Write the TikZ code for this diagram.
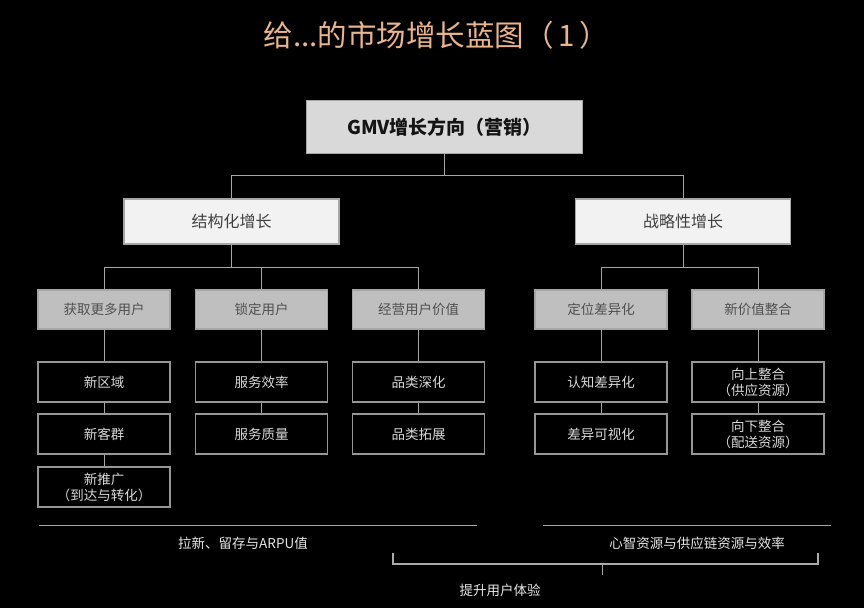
\documentclass[tikz,border=0pt]{standalone}
\usepackage{fontspec}
\setmainfont{Noto Sans CJK SC}
\begin{document}
\begin{tikzpicture}[x=1pt,y=-1pt]
    % Node styles
    \tikzstyle{none}=[inner sep=0mm]
    \tikzstyle{title}=[inner sep=0mm, text={rgb,255: red,234; green,180; blue,140}, font=\fontsize{29.5}{32}\selectfont]
    \tikzstyle{top box}=[fill={rgb,255: red,217; green,217; blue,217}, draw={rgb,255: red,166; green,166; blue,166}, line width=1.2pt, shape=rectangle, minimum width=276pt, minimum height=53pt, text={rgb,255: red,20; green,20; blue,20}, font=\bfseries\fontsize{19}{22}\selectfont]
    \tikzstyle{white box}=[fill={rgb,255: red,242; green,242; blue,242}, draw={rgb,255: red,166; green,166; blue,166}, line width=1.2pt, shape=rectangle, minimum width=215pt, minimum height=45pt, text={rgb,255: red,64; green,64; blue,64}, font=\fontsize{16}{18}\selectfont]
    \tikzstyle{gray box}=[fill={rgb,255: red,191; green,191; blue,191}, draw={rgb,255: red,166; green,166; blue,166}, line width=1.2pt, shape=rectangle, minimum width=132pt, minimum height=39pt, text={rgb,255: red,80; green,80; blue,80}, font=\fontsize{13.5}{16}\selectfont]
    \tikzstyle{black box}=[fill=black, draw={rgb,255: red,150; green,150; blue,150}, line width=1.2pt, shape=rectangle, minimum width=132pt, minimum height=40pt, text={rgb,255: red,217; green,217; blue,217}, align=center, font=\fontsize{13.5}{16}\selectfont]
    \tikzstyle{note}=[inner sep=0mm, text={rgb,255: red,230; green,230; blue,230}, font=\fontsize{13.5}{16}\selectfont]
    % Edge styles
    \tikzstyle{line}=[draw={rgb,255: red,166; green,166; blue,166}, line width=1pt]
    \tikzstyle{thick line}=[draw={rgb,255: red,166; green,166; blue,166}, line width=1.8pt]
    \tikzstyle{bracket}=[draw={rgb,255: red,170; green,170; blue,170}, line width=1.4pt]

    \fill [black] (0,0) rectangle (864,608);

    \node [style=title] (19) at (436.5, 35) {给...的市场增长蓝图（\,1\,）};
    \node [style=top box] (0) at (444.5, 127) {GMV增长方向（营销）};
    \node [style=white box] (1) at (231.5, 221.5) {结构化增长};
    \node [style=white box] (2) at (683, 221.5) {战略性增长};
    \node [style=gray box] (3) at (104, 309.5) {获取更多用户};
    \node [style=gray box] (4) at (261.5, 309.5) {锁定用户};
    \node [style=gray box] (5) at (418.5, 309.5) {经营用户价值};
    \node [style=gray box] (6) at (601, 309.5) {定位差异化};
    \node [style=gray box] (7) at (758, 309.5) {新价值整合};
    \node [style=black box] (8) at (104, 382) {新区域};
    \node [style=black box] (9) at (104, 434) {新客群};
    \node [style=black box] (10) at (104, 487) {新推广\\（到达与转化）};
    \node [style=black box] (11) at (261.5, 382) {服务效率};
    \node [style=black box] (12) at (261.5, 434) {服务质量};
    \node [style=black box] (13) at (418.5, 382) {品类深化};
    \node [style=black box] (14) at (418.5, 434) {品类拓展};
    \node [style=black box] (15) at (601, 382) {认知差异化};
    \node [style=black box] (16) at (601, 434) {差异可视化};
    \node [style=black box] (17) at (758, 382) {向上整合\\（供应资源）};
    \node [style=black box] (18) at (758, 434) {向下整合\\（配送资源）};
    \node [style=note] (20) at (243, 543) {拉新、留存与ARPU值};
    \node [style=note] (21) at (697, 543) {心智资源与供应链资源与效率};
    \node [style=note] (22) at (500, 590) {提升用户体验};
    \node [style=none] (23) at (444.5, 175) {};
    \node [style=none] (24) at (231.5, 175) {};
    \node [style=none] (25) at (683, 175) {};
    \node [style=none] (26) at (104, 267) {};
    \node [style=none] (27) at (418.5, 267) {};
    \node [style=none] (28) at (231.5, 267) {};
    \node [style=none] (29) at (601, 267) {};
    \node [style=none] (30) at (758, 267) {};
    \node [style=none] (31) at (683, 267) {};
    \node [style=none] (32) at (261.5, 267) {};
    \node [style=none] (33) at (38.5, 525.5) {};
    \node [style=none] (34) at (477, 525.5) {};
    \node [style=none] (35) at (543, 525.5) {};
    \node [style=none] (36) at (831, 525.5) {};
    \node [style=none] (37) at (393, 553) {};
    \node [style=none] (38) at (393, 564) {};
    \node [style=none] (39) at (818, 564) {};
    \node [style=none] (40) at (818, 553) {};
    \node [style=none] (41) at (602, 564) {};
    \node [style=none] (42) at (602, 575) {};

    \draw [style=line] (0) to (23.center);
    \draw [style=line] (24.center) to (25.center);
    \draw [style=line] (24.center) to (1);
    \draw [style=line] (25.center) to (2);
    \draw [style=line] (1) to (28.center);
    \draw [style=line] (26.center) to (27.center);
    \draw [style=line] (26.center) to (3);
    \draw [style=line] (32.center) to (4);
    \draw [style=line] (27.center) to (5);
    \draw [style=line] (2) to (31.center);
    \draw [style=line] (29.center) to (30.center);
    \draw [style=line] (29.center) to (6);
    \draw [style=line] (30.center) to (7);
    \draw [style=line] (3) to (8);
    \draw [style=line] (8) to (9);
    \draw [style=line] (9) to (10);
    \draw [style=line] (4) to (11);
    \draw [style=line] (11) to (12);
    \draw [style=line] (5) to (13);
    \draw [style=line] (13) to (14);
    \draw [style=line] (6) to (15);
    \draw [style=line] (15) to (16);
    \draw [style=line] (7) to (17);
    \draw [style=line] (17) to (18);
    \draw [style=thick line] (33.center) to (34.center);
    \draw [style=thick line] (35.center) to (36.center);
    \draw [style=bracket] (37.center) to (38.center) to (39.center) to (40.center);
    \draw [style=line] (41.center) to (42.center);
\end{tikzpicture}
\end{document}
